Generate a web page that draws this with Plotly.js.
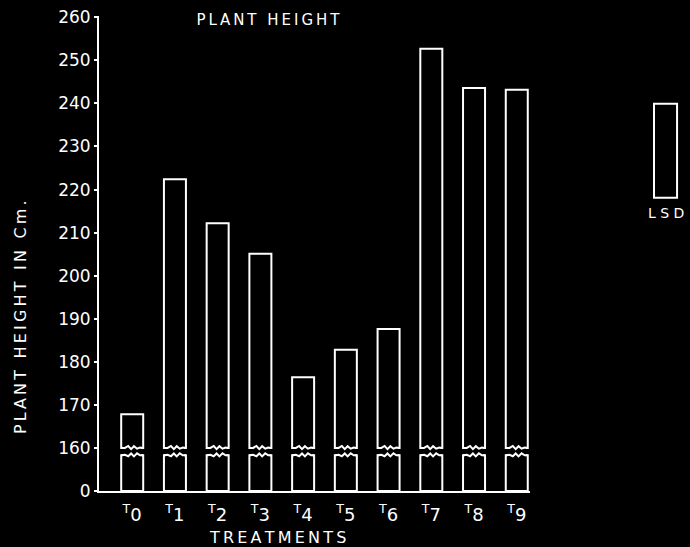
<!DOCTYPE html>
<html>
<head>
<meta charset="utf-8">
<script src="https://cdn.plot.ly/plotly-3.0.1.min.js"></script>
<style>html,body{margin:0;padding:0;background:#000;}</style>
</head>
<body>
<div id="chart" style="width:690px;height:547px;"></div>
<script>
// ---- data ----
const treatments = ["T0","T1","T2","T3","T4","T5","T6","T7","T8","T9"];
const tickDigits = ["0","1","2","3","4","5","6","7","8","9"];
const plantHeight = [167.8, 222.4, 212.2, 205.1, 176.4, 182.8, 187.6, 252.7, 243.6, 243.2];
const lsdBase = 218.1;
const lsdValue = 21.8;
const yTickValues = [0,160,170,180,190,200,210,220,230,240,250,260];
const yTickLabels = ["0","160","170","180","190","200","210","220","230","240","250","260"];

// broken axis: 0 at position 0, 160..260 equally spaced from position 1
function toPos(v){ return v <= 0 ? 0 : (v - 160) / 10 + 1; }

const barW = 0.515;
const upperBase = toPos(160);   // bottom of upper segment (wavy)
const lowerTop = 0.83;          // top of lower segment (wavy)
const xs = treatments.map((t,i)=>i);

const upper = {
  type:'bar', x: xs, base: xs.map(()=>upperBase),
  y: plantHeight.map(v => toPos(v) - upperBase),
  width: barW, marker:{color:'#000', line:{color:'#fff', width:2}},
  hoverinfo:'skip', showlegend:false
};
const lower = {
  type:'bar', x: xs, base: xs.map(()=>0), y: xs.map(()=>lowerTop),
  width: barW, marker:{color:'#000', line:{color:'#fff', width:2}},
  hoverinfo:'skip', showlegend:false
};

// break marks
const amp = 0.045;
const waveF = [-0.5,-0.33,-0.18,-0.05,0.08,0.22,0.36,0.5];
const waveUp = [0,0,1,-0.6,0.9,-0.4,0.2,0];
const waveLo = [0,0.2,-0.5,0.9,-0.6,1,0,0];
let ex=[], ey=[], wx=[], wy=[];
xs.forEach(x=>{
  [[upperBase, waveUp],[lowerTop, waveLo]].forEach(([yy, pat])=>{
    ex.push(x - barW/2 + 0.045, x + barW/2 - 0.045, null);
    ey.push(yy, yy, null);
    waveF.forEach((f,k)=>{ wx.push(x + f*barW); wy.push(yy + pat[k]*amp); });
    wx.push(null); wy.push(null);
  });
});
const erase = {type:'scatter', mode:'lines', x:ex, y:ey, line:{color:'#000', width:4},
  hoverinfo:'skip', showlegend:false};
const wave = {type:'scatter', mode:'lines', x:wx, y:wy, line:{color:'#fff', width:2},
  hoverinfo:'skip', showlegend:false};

const lsd = {
  type:'bar', x:[0.724], base:[toPos(lsdBase)], y:[toPos(lsdBase+lsdValue)-toPos(lsdBase)],
  width:0.26, xaxis:'x2', yaxis:'y',
  marker:{color:'#000', line:{color:'#fff', width:2}}, hoverinfo:'skip', showlegend:false
};

const sp = s => s.split('').join('\u2009');
const fontFam = '"DejaVu Sans", Arial, sans-serif';

const layout = {
  width:690, height:547,
  paper_bgcolor:'#000', plot_bgcolor:'#000',
  margin:{l:99, r:0, t:16, b:56},
  font:{family:fontFam, color:'#fff', size:16},
  barmode:'overlay',
  title:{text: sp('PLANT HEIGHT'), x:268/690, xanchor:'center', y:1-20/547, yanchor:'middle',
    font:{size:15, color:'#fff', family:fontFam}},
  xaxis:{
    domain:[0, 0.7293], range:[-0.777, 9.31],
    tickvals: xs, ticktext: tickDigits.map(d => '<sup>T</sup>' + d),
    tickfont:{size:18, color:'#fff'}, ticklabelstandoff:6,
    showline:true, linecolor:'#fff', linewidth:2, ticks:'', showgrid:false, zeroline:false,
    fixedrange:true
  },
  xaxis2:{
    domain:[0.85, 1], range:[0,1], anchor:'y',
    showline:false, showticklabels:false, ticks:'', showgrid:false, zeroline:false
  },
  yaxis:{
    range:[0, 11.03],
    tickvals: yTickValues.map(toPos), ticktext: yTickLabels,
    tickfont:{size:17, color:'#fff'},
    showline:true, linecolor:'#fff', linewidth:2,
    ticks:'outside', ticklen:3, tickwidth:2, tickcolor:'#fff',
    showgrid:false, zeroline:false
  },
  annotations:[
    {text: sp('PLANT HEIGHT IN Cm.'), textangle:-90, xref:'paper', yref:'paper',
     x:(20-99)/591, y:(491-317)/475, xanchor:'center', yanchor:'middle', showarrow:false,
     font:{size:16, color:'#fff'}},
    {text: sp('TREATMENTS'), xref:'paper', yref:'paper',
     x:(277-99)/591, y:(491-537)/475, xanchor:'center', yanchor:'middle', showarrow:false,
     font:{size:16, color:'#fff'}},
    {text: 'L S D', xref:'x2', yref:'y', x:0.724, y:toPos(lsdBase)-0.35,
     xanchor:'center', yanchor:'middle', showarrow:false, font:{size:14, color:'#fff'}}
  ]
};

Plotly.newPlot('chart', [lower, upper, lsd, erase, wave], layout, {displayModeBar:false, staticPlot:true});
</script>
</body>
</html>
